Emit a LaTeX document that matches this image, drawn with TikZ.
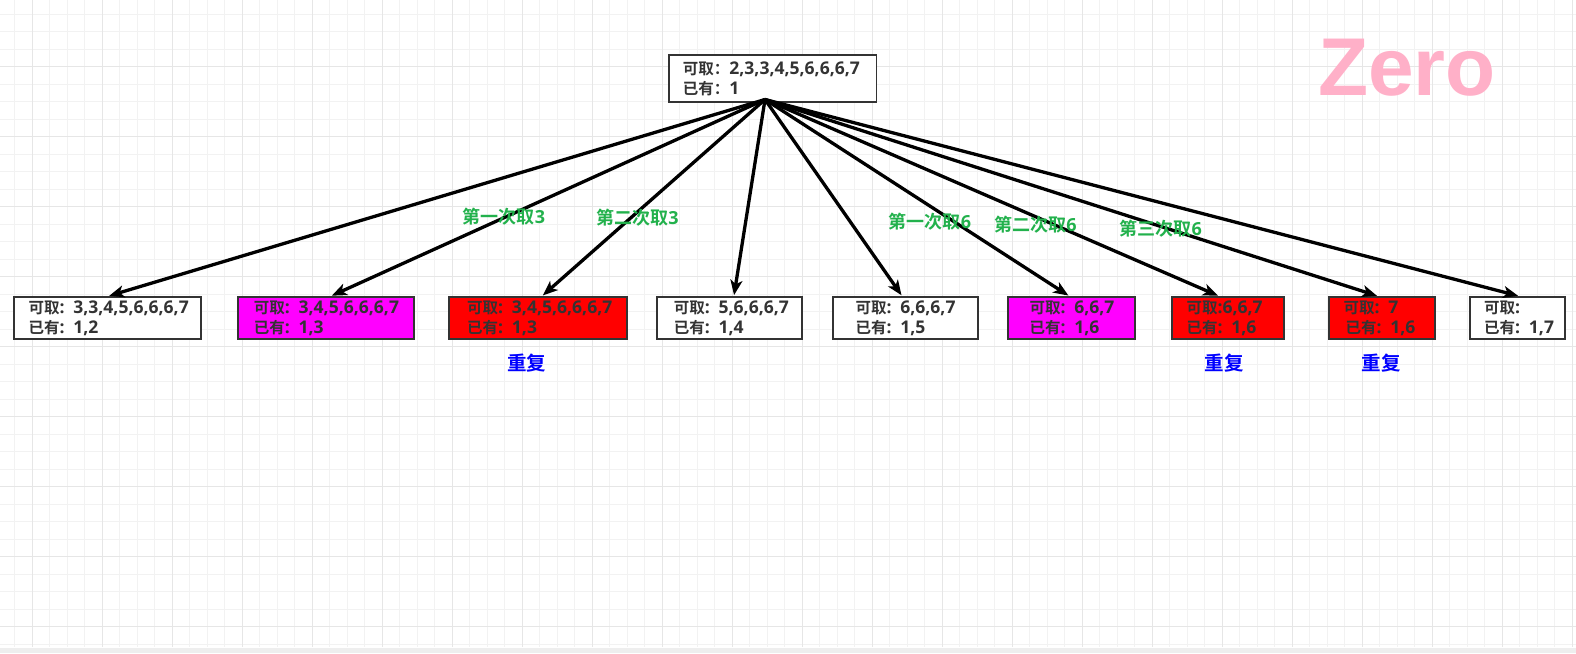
\documentclass[tikz,border=0pt]{standalone}
\usepackage{fontspec}
\setmainfont{Open Sans}[BoldFont={* Bold}]
\newfontfamily\cjkb{Noto Sans CJK SC Bold}
\newfontfamily\latb{Open Sans Bold}
\newfontfamily\zerofont{Liberation Sans}[BoldFont={* Bold}]
\usetikzlibrary{arrows.meta}
\definecolor{gridminor}{HTML}{F2F2F2}
\definecolor{gridmajor}{HTML}{E6E6E6}
\definecolor{boxline}{HTML}{333333}
\definecolor{boxtext}{HTML}{333333}
\definecolor{lblgreen}{HTML}{22B14C}
\definecolor{dupblue}{HTML}{0000FF}
\definecolor{zeropink}{HTML}{FFB0C8}
\definecolor{bottomband}{HTML}{EEEEEE}
\definecolor{fillmag}{HTML}{FF00FF}
\definecolor{fillred}{HTML}{FF0000}
\newcommand\zh[1]{{\cjkb\fontsize{15.5}{20}\selectfont #1}}
\newcommand\zhl[1]{{\cjkb\fontsize{18}{20}\selectfont #1}}
\newcommand\twoln[2]{\mbox{#1}\\\mbox{#2}}
\begin{document}
\begin{tikzpicture}[x=1pt,y=-1pt,
  bx/.style={draw=boxline, line width=1.8pt, rectangle, align=left, anchor=west,
    minimum height=42pt, inner ysep=0pt, text=boxtext,
    font=\latb\fontsize{17.5}{20}\selectfont},
  rootbx/.style={bx, minimum height=47pt},
  edge/.style={line width=3.3pt, black, -{Stealth[length=15pt,width=12pt,inset=4pt]}, shorten >=1pt},
  picklbl/.style={text=lblgreen, font=\latb\fontsize{18}{20}\selectfont, inner sep=0pt},
  duplbl/.style={text=dupblue, font=\cjkb\fontsize{19.5}{22}\selectfont, inner sep=0pt}]
\useasboundingbox (0,0) rectangle (1576,653);
\fill[white] (0,0) rectangle (1576,653);
% grid
\foreach \i in {0,...,90} {
  \draw[gridminor, line width=1pt] ({14.8+17.5*\i},0) -- ({14.8+17.5*\i},647);
}
\foreach \j in {0,...,36} {
  \draw[gridminor, line width=1pt] (0,{14.2+17.5*\j}) -- (1576,{14.2+17.5*\j});
}
\foreach \i in {0,...,22} {
  \draw[gridmajor, line width=1.3pt] ({32.3+70*\i},0) -- ({32.3+70*\i},647);
}
\foreach \j in {0,...,8} {
  \draw[gridmajor, line width=1.3pt] (0,{66.7+70*\j}) -- (1576,{66.7+70*\j});
}
\fill[bottomband] (0,647.5) rectangle (1576,653);

% Zero
\node[anchor=base west, inner sep=0pt, text=zeropink, font=\zerofont\bfseries\fontsize{82}{82}\selectfont] (zero) at (1318,95) {Zero};

% root
\node[rootbx, fill=white, inner xsep=14pt, text width=179.5pt] (root) at (668,78.5)
  {\twoln{\zh{可取：}2,3,3,4,5,6,6,6,7}{\zh{已有：}1}};
\coordinate (src) at (765,99.5);

% children
\node[bx, fill=white, inner xsep=15pt, text width=157.3pt] (b1) at (12.7,318)
  {\twoln{\zh{可取}: 3,3,4,5,6,6,6,7}{\zh{已有}: 1,2}};
\node[bx, fill=fillmag, inner xsep=16pt, text width=144pt] (b2) at (237,318)
  {\twoln{\zh{可取}: 3,4,5,6,6,6,7}{\zh{已有}: 1,3}};
\node[bx, fill=fillred, inner xsep=18pt, text width=141.7pt] (b3) at (448.3,318)
  {\twoln{\zh{可取}: 3,4,5,6,6,6,7}{\zh{已有}: 1,3}};
\node[bx, fill=white, inner xsep=17pt, text width=111pt] (b4) at (656,318)
  {\twoln{\zh{可取}: 5,6,6,6,7}{\zh{已有}: 1,4}};
\node[bx, fill=white, inner xsep=23pt, text width=99pt] (b5) at (831.7,318)
  {\twoln{\zh{可取}: 6,6,6,7}{\zh{已有}: 1,5}};
\node[bx, fill=fillmag, inner xsep=22pt, text width=83.3pt] (b6) at (1006.7,318)
  {\twoln{\zh{可取}: 6,6,7}{\zh{已有}: 1,6}};
\node[bx, fill=fillred, inner xsep=15pt, text width=82.6pt] (b7) at (1170.7,318)
  {\twoln{\zh{可取}:6,6,7}{\zh{已有}: 1,6}};
\node[bx, fill=fillred, inner xsep=15pt, text width=76.6pt] (b8) at (1327.7,318)
  {\twoln{\zh{可取}: 7}{\hspace*{2pt}\zh{已有}: 1,6}};
\node[bx, fill=white, inner xsep=14pt, text width=66.7pt] (b9) at (1469.3,318)
  {\twoln{\zh{可取}:}{\zh{已有}: 1,7}};

% edges
\draw[edge] (src) -- ([xshift=1pt]b1.north);
\draw[edge] (src) -- ([xshift=5pt]b2.north);
\draw[edge] (src) -- ([xshift=4pt]b3.north);
\draw[edge] (src) -- ([xshift=4.5pt]b4.north);
\draw[edge] (src) -- ([xshift=-3pt]b5.north);
\draw[edge] (src) -- ([xshift=-2pt]b6.north);
\draw[edge] (src) -- ([xshift=-9pt]b7.north);
\draw[edge] (src) -- ([xshift=-4pt]b8.north);
\draw[edge] (src) -- ([xshift=1.5pt]b9.north);

% edge labels
\node[picklbl] (l1) at (504,216.7) {\zhl{第一次取}3};
\node[picklbl] (l2) at (637.5,217.7) {\zhl{第二次取}3};
\node[picklbl] (l3) at (930,221.7) {\zhl{第一次取}6};
\node[picklbl] (l4) at (1035.5,224.3) {\zhl{第二次取}6};
\node[picklbl] (l5) at (1160.8,229) {\zhl{第三次取}6};

% duplicate labels
\node[duplbl] (d3) at (526.5,363) {重复};
\node[duplbl] (d7) at (1224,363) {重复};
\node[duplbl] (d8) at (1381,363) {重复};
\end{tikzpicture}
\end{document}
